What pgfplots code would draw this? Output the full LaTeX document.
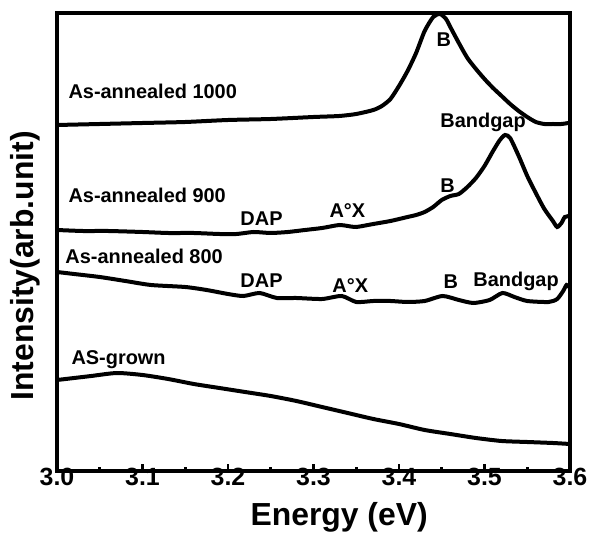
\documentclass[border=0pt]{standalone}
\usepackage{pgfplots}
\pgfplotsset{compat=1.18}
\usepackage{fontspec}
\setmainfont{Liberation Sans}
\newcommand{\ann}{\fontsize{20}{22}\selectfont\bfseries}
\begin{document}
\begin{tikzpicture}
\begin{axis}[
  name=ax,
  scale only axis,
  width=513bp, height=458bp,
  xmin=3.0, xmax=3.6, ymin=0, ymax=458,
  xtick={3.0,3.1,3.2,3.3,3.4,3.5,3.6},
  minor x tick num=1,
  ytick=\empty,
  xtick pos=lower,
  tick align=inside,
  major tick length=7bp, minor tick length=4bp,
  every tick/.style={line width=2.6bp, black},
  axis line style={line width=3.2bp},
  xticklabel style={anchor=base, yshift=-14.5bp, font=\fontsize{25}{25}\selectfont\bfseries, /pgf/number format/.cd, fixed, fixed zerofill, precision=1, assume math mode=true},
  xlabel={Energy (eV)},
  ylabel={Intensity(arb.unit)},
  every axis x label/.style={at={(axis description cs:0.55,-0.118)}, anchor=base, font=\fontsize{32}{32}\selectfont\bfseries},
  every axis y label/.style={at={(axis description cs:-0.0624,0.4476)}, anchor=center, rotate=90, font=\fontsize{32}{32}\selectfont\bfseries},
  every node/.append style={inner sep=0pt},
]
% As-annealed 1000
\addplot[black, line width=4bp, smooth, tension=0.4] coordinates {
(3.00,346) (3.05,347) (3.10,348) (3.15,349) (3.20,351) (3.25,352) (3.30,354) (3.33,355) (3.35,357) (3.37,361) (3.38,365) (3.39,372) (3.40,385) (3.41,400) (3.42,418) (3.43,440) (3.44,454) (3.448,457) (3.455,452) (3.46,444) (3.47,428) (3.48,413) (3.49,402) (3.50,392) (3.51,383) (3.52,375) (3.53,367) (3.54,360) (3.55,354) (3.56,349) (3.57,347) (3.58,347) (3.59,347) (3.598,348)
};
% As-annealed 900
\addplot[black, line width=4bp, smooth, tension=0.4] coordinates {
(3.00,241) (3.03,240) (3.06,240) (3.10,239) (3.13,238) (3.16,238) (3.19,237) (3.21,237) (3.23,239) (3.25,238) (3.27,239) (3.29,241) (3.31,243) (3.33,246) (3.34,245) (3.35,244) (3.37,247) (3.39,250) (3.41,254) (3.42,256) (3.43,259) (3.44,264) (3.45,271) (3.46,275) (3.47,277) (3.48,284) (3.49,293) (3.50,305) (3.51,320) (3.518,331) (3.524,336) (3.53,333) (3.54,315) (3.55,295) (3.56,278) (3.57,262) (3.58,250) (3.585,244) (3.59,248) (3.594,254) (3.60,255)
};
% As-annealed 800
\addplot[black, line width=4bp, smooth, tension=0.4] coordinates {
(3.00,199) (3.02,197) (3.05,194) (3.08,190) (3.11,186) (3.15,184) (3.175,181) (3.20,177) (3.218,175) (3.237,178) (3.257,173) (3.28,173) (3.31,172) (3.333,175) (3.35,169) (3.37,170) (3.39,170) (3.41,169) (3.43,170) (3.451,175) (3.47,171) (3.487,168) (3.506,171) (3.521,178) (3.535,174) (3.55,170) (3.575,169) (3.585,172) (3.592,180) (3.596,186) (3.60,183)
};
% AS-grown
\addplot[black, line width=4bp, smooth, tension=0.4] coordinates {
(3.00,91) (3.02,93) (3.04,95) (3.07,98) (3.10,96) (3.13,92) (3.16,87) (3.19,83) (3.22,79) (3.25,75) (3.28,70) (3.31,64) (3.34,58) (3.37,52) (3.40,47) (3.43,41) (3.46,37) (3.49,33) (3.52,30) (3.55,29) (3.58,28) (3.60,27)
};
\node[anchor=base west, font=\ann] at (axis cs:3.0094,372) {As-annealed 1000};
\node[anchor=base west, font=\ann] at (axis cs:3.4398,424) {B};
\node[anchor=base west, font=\ann] at (axis cs:3.4444,343) {Bandgap};
\node[anchor=base west, font=\ann] at (axis cs:3.0094,268) {As-annealed 900};
\node[anchor=base west, font=\ann] at (axis cs:3.2105,245) {DAP};
\node[anchor=base west, font=\ann] at (axis cs:3.3146,253) {A°X};
\node[anchor=base west, font=\ann] at (axis cs:3.4444,278) {B};
\node[anchor=base west, font=\ann] at (axis cs:3.0058,207) {As-annealed 800};
\node[anchor=base west, font=\ann] at (axis cs:3.2105,183) {DAP};
\node[anchor=base west, font=\ann] at (axis cs:3.318,178) {A°X};
\node[anchor=base west, font=\ann] at (axis cs:3.448,182) {B};
\node[anchor=base west, font=\ann] at (axis cs:3.483,184) {Bandgap};
\node[anchor=base west, font=\ann] at (axis cs:3.0129,106) {AS-grown};
\end{axis}
\pgfresetboundingbox
\path[use as bounding box] (ax.south west) ++(-57bp,-63bp) rectangle ++(590bp,534bp);
\end{tikzpicture}
\end{document}
